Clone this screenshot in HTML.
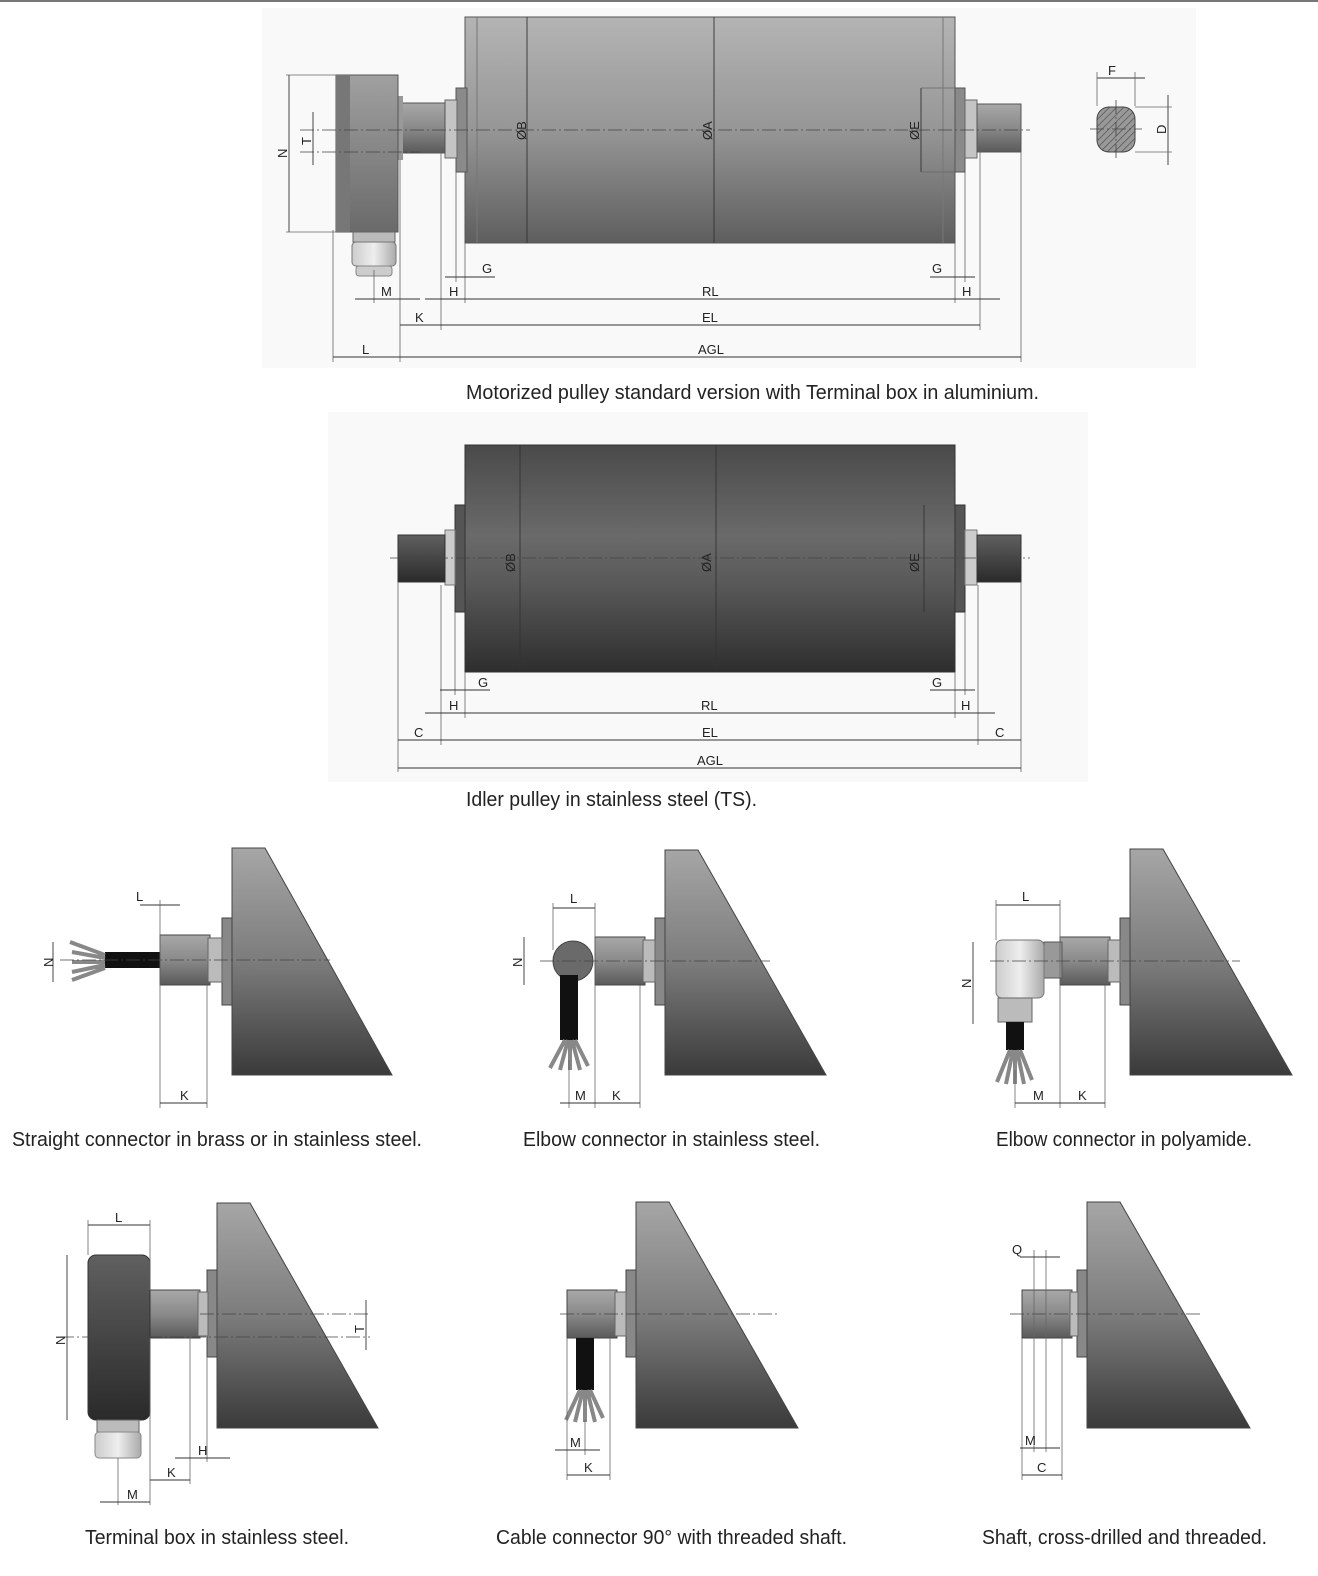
<!DOCTYPE html>
<html><head><meta charset="utf-8"><style>
html,body{margin:0;padding:0;background:#fff;}
svg{display:block;}
.cap{font-family:"Liberation Sans Narrow","Liberation Sans",sans-serif;font-size:20px;fill:#222;}
.lb{font-family:"Liberation Sans Narrow","Liberation Sans",sans-serif;font-size:13px;fill:#222;}
.d{stroke:#333;stroke-width:0.9;fill:none;}
.e{stroke:#666;stroke-width:0.8;fill:none;}
.c{stroke:#444;stroke-width:0.8;stroke-dasharray:14 3 2 3;fill:none;}
</style></head><body>
<svg width="1318" height="1576" viewBox="0 0 1318 1576" xmlns="http://www.w3.org/2000/svg">
<defs>
<linearGradient id="cy1" x1="0" y1="0" x2="0" y2="1"><stop offset="0" stop-color="#b4b4b4"/><stop offset="0.5" stop-color="#969696"/><stop offset="1" stop-color="#5e5e5e"/></linearGradient>
<linearGradient id="cy2" x1="0" y1="0" x2="0" y2="1"><stop offset="0" stop-color="#4a4a4a"/><stop offset="0.4" stop-color="#6a6a6a"/><stop offset="0.6" stop-color="#5a5a5a"/><stop offset="1" stop-color="#2e2e2e"/></linearGradient>
<linearGradient id="sh" x1="0" y1="0" x2="0" y2="1"><stop offset="0" stop-color="#a8a8a8"/><stop offset="0.5" stop-color="#8a8a8a"/><stop offset="1" stop-color="#5a5a5a"/></linearGradient>
<linearGradient id="wd" x1="0" y1="0" x2="0" y2="1"><stop offset="0" stop-color="#a6a6a6"/><stop offset="0.5" stop-color="#7c7c7c"/><stop offset="1" stop-color="#3a3a3a"/></linearGradient>
<linearGradient id="tb" x1="0" y1="0" x2="0" y2="1"><stop offset="0" stop-color="#a0a0a0"/><stop offset="1" stop-color="#6a6a6a"/></linearGradient>
<linearGradient id="tb2" x1="0" y1="0" x2="0" y2="1"><stop offset="0" stop-color="#606060"/><stop offset="1" stop-color="#2a2a2a"/></linearGradient>
<linearGradient id="gl" x1="0" y1="0" x2="1" y2="0"><stop offset="0" stop-color="#ccc"/><stop offset="0.5" stop-color="#eee"/><stop offset="1" stop-color="#aaa"/></linearGradient>
<pattern id="hat" width="5" height="5" patternUnits="userSpaceOnUse" patternTransform="rotate(45)"><rect width="5" height="5" fill="#999"/><line x1="0" y1="0" x2="0" y2="5" stroke="#555" stroke-width="1.5"/></pattern>
</defs>
<rect x="0" y="0" width="1318" height="2" fill="#777"/>
<rect x="262" y="8" width="934" height="360" fill="#f9f9f9"/>
<rect x="328" y="412" width="760" height="370" fill="#f9f9f9"/>

<!-- Drawing 1 -->
<rect x="465" y="17" width="490" height="226" fill="url(#cy1)" stroke="#555"/>
<line x1="477" y1="17" x2="477" y2="243" stroke="#777"/>
<line x1="943" y1="17" x2="943" y2="243" stroke="#777"/>
<rect x="456" y="88" width="11" height="84" fill="#8a8a8a" stroke="#555"/>
<rect x="445" y="100" width="12" height="58" fill="#c4c4c4" stroke="#666"/>
<rect x="400" y="103" width="45" height="50" fill="url(#sh)" stroke="#555"/>
<rect x="398" y="96" width="5" height="64" fill="#999"/>
<rect x="336" y="75" width="62" height="157" fill="url(#tb)" stroke="#555"/>
<rect x="336" y="75" width="14" height="157" fill="#777"/>
<rect x="353" y="232" width="42" height="10" fill="#bbb" stroke="#666"/>
<rect x="352" y="242" width="44" height="24" rx="4" fill="url(#gl)" stroke="#777"/>
<rect x="356" y="266" width="36" height="10" rx="3" fill="#ccc" stroke="#888"/>
<rect x="955" y="88" width="10" height="84" fill="#8a8a8a" stroke="#555"/>
<rect x="965" y="100" width="12" height="58" fill="#c4c4c4" stroke="#666"/>
<rect x="977" y="104" width="44" height="48" fill="url(#sh)" stroke="#555"/>
<line class="c" x1="300" y1="130" x2="1030" y2="130"/>
<line class="c" x1="300" y1="152" x2="420" y2="152"/>
<rect x="1097" y="107" width="38" height="45" rx="12" fill="url(#hat)" stroke="#444"/>
<line class="c" x1="1090" y1="129" x2="1142" y2="129"/>
<line class="c" x1="1116" y1="100" x2="1116" y2="160"/>
<line class="d" x1="1097" y1="78" x2="1145" y2="78"/><line class="e" x1="1097" y1="72" x2="1097" y2="106"/><line class="e" x1="1135" y1="72" x2="1135" y2="106"/>
<text class="lb" x="1108" y="75">F</text>
<line class="d" x1="1168" y1="95" x2="1168" y2="165"/><line class="e" x1="1135" y1="107" x2="1172" y2="107"/><line class="e" x1="1135" y1="152" x2="1172" y2="152"/>
<text class="lb" x="1166" y="134" transform="rotate(-90 1166 134)">D</text>
<line class="d" x1="527" y1="17" x2="527" y2="243"/><text class="lb" x="526" y="140" transform="rotate(-90 526 140)">ØB</text>
<line class="d" x1="714" y1="17" x2="714" y2="243"/><text class="lb" x="712" y="140" transform="rotate(-90 712 140)">ØA</text>
<line class="d" x1="921" y1="88" x2="921" y2="172"/><line class="e" x1="921" y1="88" x2="955" y2="88"/><line class="e" x1="921" y1="172" x2="955" y2="172"/><text class="lb" x="919" y="140" transform="rotate(-90 919 140)">ØE</text>
<line class="d" x1="289" y1="75" x2="289" y2="232"/><line class="e" x1="286" y1="75" x2="336" y2="75"/><line class="e" x1="286" y1="232" x2="336" y2="232"/>
<text class="lb" x="287" y="158" transform="rotate(-90 287 158)">N</text>
<line class="d" x1="313" y1="112" x2="313" y2="165"/><text class="lb" x="311" y="145" transform="rotate(-90 311 145)">T</text>
<!-- dimension lines -->
<g>
<line class="e" x1="333" y1="230" x2="333" y2="362"/><line class="e" x1="400" y1="160" x2="400" y2="362"/>
<line class="e" x1="1021" y1="152" x2="1021" y2="362"/><line class="e" x1="441" y1="150" x2="441" y2="330"/>
<line class="e" x1="980" y1="150" x2="980" y2="330"/><line class="e" x1="465" y1="243" x2="465" y2="303"/>
<line class="e" x1="955" y1="243" x2="955" y2="303"/><line class="e" x1="456" y1="172" x2="456" y2="282"/>
<line class="e" x1="965" y1="172" x2="965" y2="282"/><line class="e" x1="374" y1="270" x2="374" y2="303"/>
<line class="d" x1="445" y1="277" x2="495" y2="277"/><text class="lb" x="482" y="273">G</text>
<line class="d" x1="930" y1="277" x2="975" y2="277"/><text class="lb" x="932" y="273">G</text>
<line class="d" x1="355" y1="299" x2="420" y2="299"/><text class="lb" x="381" y="296">M</text>
<line class="d" x1="425" y1="299" x2="1000" y2="299"/><text class="lb" x="449" y="296">H</text><text class="lb" x="702" y="296">RL</text><text class="lb" x="962" y="296">H</text>
<line class="d" x1="400" y1="325" x2="980" y2="325"/><text class="lb" x="415" y="322">K</text><text class="lb" x="702" y="322">EL</text>
<line class="d" x1="333" y1="357" x2="1021" y2="357"/><text class="lb" x="362" y="354">L</text><text class="lb" x="698" y="354">AGL</text>
</g>
<text class="cap" x="466" y="399" textLength="573" lengthAdjust="spacingAndGlyphs">Motorized pulley standard version with Terminal box in aluminium.</text>

<!-- Drawing 2 -->
<rect x="465" y="445" width="490" height="227" fill="url(#cy2)" stroke="#333"/>
<rect x="455" y="505" width="10" height="107" fill="#555" stroke="#333"/>
<rect x="955" y="505" width="10" height="107" fill="#555" stroke="#333"/>
<rect x="445" y="530" width="10" height="55" fill="#ccc" stroke="#777"/>
<rect x="965" y="530" width="12" height="55" fill="#ccc" stroke="#777"/>
<rect x="398" y="535" width="47" height="47" fill="url(#tb2)" stroke="#333"/>
<rect x="977" y="535" width="44" height="47" fill="url(#tb2)" stroke="#333"/>
<line class="c" x1="390" y1="558" x2="1030" y2="558"/>
<line class="d" x1="520" y1="445" x2="520" y2="672"/><text class="lb" x="515" y="572" transform="rotate(-90 515 572)">ØB</text>
<line class="d" x1="716" y1="445" x2="716" y2="672"/><text class="lb" x="711" y="572" transform="rotate(-90 711 572)">ØA</text>
<line class="d" x1="924" y1="505" x2="924" y2="612"/><text class="lb" x="919" y="572" transform="rotate(-90 919 572)">ØE</text>
<line class="e" x1="398" y1="582" x2="398" y2="772"/><line class="e" x1="1021" y1="582" x2="1021" y2="772"/>
<line class="e" x1="441" y1="585" x2="441" y2="745"/><line class="e" x1="978" y1="585" x2="978" y2="745"/>
<line class="e" x1="455" y1="612" x2="455" y2="695"/><line class="e" x1="965" y1="612" x2="965" y2="695"/>
<line class="e" x1="465" y1="672" x2="465" y2="718"/><line class="e" x1="955" y1="672" x2="955" y2="718"/>
<line class="d" x1="440" y1="690" x2="490" y2="690"/><text class="lb" x="478" y="687">G</text>
<line class="d" x1="930" y1="690" x2="975" y2="690"/><text class="lb" x="932" y="687">G</text>
<line class="d" x1="425" y1="713" x2="995" y2="713"/><text class="lb" x="449" y="710">H</text><text class="lb" x="701" y="710">RL</text><text class="lb" x="961" y="710">H</text>
<line class="d" x1="398" y1="740" x2="1021" y2="740"/><text class="lb" x="414" y="737">C</text><text class="lb" x="702" y="737">EL</text><text class="lb" x="995" y="737">C</text>
<line class="d" x1="398" y1="768" x2="1021" y2="768"/><text class="lb" x="697" y="765">AGL</text>
<text class="cap" x="466" y="806" textLength="291" lengthAdjust="spacingAndGlyphs">Idler pulley in stainless steel (TS).</text>

<!-- Small drawing template: wedges -->
<g stroke="#444">
<path d="M232 848 H265 L392 1075 H232 Z" fill="url(#wd)"/>
<path d="M665 850 H698 L826 1075 H665 Z" fill="url(#wd)"/>
<path d="M1130 849 H1163 L1292 1075 H1130 Z" fill="url(#wd)"/>
<path d="M217 1203 H250 L378 1428 H217 Z" fill="url(#wd)"/>
<path d="M636 1202 H669 L798 1428 H636 Z" fill="url(#wd)"/>
<path d="M1087 1202 H1120 L1250 1428 H1087 Z" fill="url(#wd)"/>
</g>
<g stroke="#444">
<rect x="222" y="918" width="10" height="87" fill="#888"/><rect x="655" y="918" width="10" height="87" fill="#888"/><rect x="1120" y="918" width="10" height="87" fill="#888"/>
<rect x="207" y="1270" width="10" height="87" fill="#888"/><rect x="626" y="1270" width="10" height="87" fill="#888"/><rect x="1077" y="1270" width="10" height="87" fill="#888"/>
</g>
<!-- D1 straight -->
<rect x="160" y="935" width="50" height="50" fill="url(#sh)" stroke="#444"/>
<rect x="208" y="938" width="14" height="44" fill="#bbb" stroke="#666"/>
<rect x="105" y="952" width="55" height="16" fill="#111"/>
<path d="M105 955 L70 942 M105 958 L72 952 M105 962 L72 962 M105 965 L72 972 M105 968 L72 980" stroke="#888" stroke-width="4"/>
<line class="c" x1="60" y1="960" x2="330" y2="960"/>
<line class="d" x1="140" y1="905" x2="180" y2="905"/><text class="lb" x="136" y="901">L</text>
<line class="e" x1="160" y1="900" x2="160" y2="1108"/><line class="e" x1="207" y1="985" x2="207" y2="1108"/>
<line class="d" x1="160" y1="1103" x2="207" y2="1103"/><text class="lb" x="180" y="1100">K</text>
<line class="d" x1="53" y1="942" x2="53" y2="982"/><text class="lb" x="53" y="967" transform="rotate(-90 53 967)">N</text>
<text class="cap" x="12" y="1146" textLength="410" lengthAdjust="spacingAndGlyphs">Straight connector in brass or in stainless steel.</text>
<!-- D2 elbow SS -->
<rect x="595" y="937" width="50" height="48" fill="url(#sh)" stroke="#444"/>
<rect x="643" y="940" width="12" height="42" fill="#bbb" stroke="#666"/>
<circle cx="573" cy="961" r="20" fill="#6a6a6a" stroke="#444"/>
<rect x="560" y="975" width="18" height="65" fill="#111"/>
<path d="M565 1040 L550 1068 M568 1040 L560 1070 M570 1040 L570 1070 M572 1040 L580 1070 M575 1040 L588 1066" stroke="#888" stroke-width="4"/>
<line class="c" x1="540" y1="961" x2="770" y2="961"/>
<line class="d" x1="553" y1="908" x2="595" y2="908"/><text class="lb" x="570" y="903">L</text>
<line class="e" x1="553" y1="903" x2="553" y2="950"/><line class="e" x1="595" y1="903" x2="595" y2="1108"/><line class="e" x1="569" y1="1060" x2="569" y2="1108"/><line class="e" x1="640" y1="985" x2="640" y2="1108"/>
<line class="d" x1="560" y1="1103" x2="640" y2="1103"/><text class="lb" x="575" y="1100">M</text><text class="lb" x="612" y="1100">K</text>
<line class="d" x1="524" y1="937" x2="524" y2="985"/><text class="lb" x="522" y="967" transform="rotate(-90 522 967)">N</text>
<text class="cap" x="523" y="1146" textLength="297" lengthAdjust="spacingAndGlyphs">Elbow connector in stainless steel.</text>
<!-- D3 elbow PA -->
<rect x="1060" y="937" width="50" height="48" fill="url(#sh)" stroke="#444"/>
<rect x="1108" y="940" width="12" height="42" fill="#bbb" stroke="#666"/>
<rect x="1044" y="942" width="18" height="36" fill="#999" stroke="#555"/>
<rect x="996" y="940" width="48" height="58" rx="6" fill="url(#gl)" stroke="#777"/>
<rect x="998" y="998" width="34" height="24" fill="#bbb" stroke="#666"/>
<rect x="1006" y="1022" width="18" height="28" fill="#111"/>
<path d="M1010 1050 L997 1082 M1013 1050 L1006 1084 M1015 1050 L1015 1084 M1017 1050 L1024 1084 M1020 1050 L1032 1080" stroke="#888" stroke-width="4"/>
<line class="c" x1="990" y1="961" x2="1240" y2="961"/>
<line class="d" x1="996" y1="905" x2="1060" y2="905"/><text class="lb" x="1022" y="901">L</text>
<line class="e" x1="996" y1="900" x2="996" y2="940"/><line class="e" x1="1060" y1="900" x2="1060" y2="1108"/><line class="e" x1="1015" y1="1070" x2="1015" y2="1108"/><line class="e" x1="1105" y1="985" x2="1105" y2="1108"/>
<line class="d" x1="1015" y1="1103" x2="1105" y2="1103"/><text class="lb" x="1033" y="1100">M</text><text class="lb" x="1078" y="1100">K</text>
<line class="d" x1="973" y1="942" x2="973" y2="1024"/><text class="lb" x="971" y="988" transform="rotate(-90 971 988)">N</text>
<text class="cap" x="996" y="1146" textLength="256" lengthAdjust="spacingAndGlyphs">Elbow connector in polyamide.</text>
<!-- D4 terminal box SS -->
<rect x="150" y="1290" width="50" height="48" fill="url(#sh)" stroke="#444"/>
<rect x="198" y="1292" width="10" height="44" fill="#bbb" stroke="#666"/>
<rect x="88" y="1255" width="62" height="165" rx="8" fill="url(#tb2)" stroke="#333"/>
<rect x="97" y="1420" width="42" height="12" fill="#bbb" stroke="#666"/>
<rect x="95" y="1432" width="46" height="26" rx="4" fill="url(#gl)" stroke="#888"/>
<line class="c" x1="60" y1="1337" x2="370" y2="1337"/>
<line class="c" x1="200" y1="1314" x2="370" y2="1314"/>
<line class="d" x1="88" y1="1225" x2="150" y2="1225"/><text class="lb" x="115" y="1222">L</text>
<line class="e" x1="88" y1="1220" x2="88" y2="1255"/><line class="e" x1="150" y1="1220" x2="150" y2="1290"/>
<line class="d" x1="67" y1="1255" x2="67" y2="1420"/><text class="lb" x="65" y="1345" transform="rotate(-90 65 1345)">N</text>
<line class="d" x1="366" y1="1300" x2="366" y2="1350"/><text class="lb" x="364" y="1333" transform="rotate(-90 364 1333)">T</text>
<line class="e" x1="118" y1="1458" x2="118" y2="1505"/><line class="e" x1="150" y1="1338" x2="150" y2="1505"/><line class="e" x1="190" y1="1338" x2="190" y2="1484"/><line class="e" x1="207" y1="1357" x2="207" y2="1462"/>
<line class="d" x1="175" y1="1458" x2="230" y2="1458"/><text class="lb" x="198" y="1455">H</text>
<line class="d" x1="150" y1="1480" x2="190" y2="1480"/><text class="lb" x="167" y="1477">K</text>
<line class="d" x1="100" y1="1502" x2="150" y2="1502"/><text class="lb" x="127" y="1499">M</text>
<text class="cap" x="85" y="1544" textLength="264" lengthAdjust="spacingAndGlyphs">Terminal box in stainless steel.</text>
<!-- D5 cable 90 -->
<rect x="567" y="1290" width="50" height="48" fill="url(#sh)" stroke="#444"/>
<rect x="615" y="1292" width="11" height="44" fill="#bbb" stroke="#666"/>
<rect x="576" y="1338" width="18" height="52" fill="#111"/>
<path d="M580 1390 L566 1420 M583 1390 L575 1422 M585 1390 L585 1422 M587 1390 L595 1422 M590 1390 L603 1418" stroke="#888" stroke-width="4"/>
<line class="c" x1="560" y1="1314" x2="780" y2="1314"/>
<line class="e" x1="567" y1="1338" x2="567" y2="1480"/><line class="e" x1="585" y1="1420" x2="585" y2="1455"/><line class="e" x1="610" y1="1338" x2="610" y2="1480"/>
<line class="d" x1="555" y1="1450" x2="600" y2="1450"/><text class="lb" x="570" y="1447">M</text>
<line class="d" x1="567" y1="1475" x2="610" y2="1475"/><text class="lb" x="584" y="1472">K</text>
<text class="cap" x="496" y="1544" textLength="351" lengthAdjust="spacingAndGlyphs">Cable connector 90° with threaded shaft.</text>
<!-- D6 shaft -->
<rect x="1022" y="1290" width="50" height="48" fill="url(#sh)" stroke="#444"/>
<rect x="1070" y="1292" width="8" height="44" fill="#bbb" stroke="#666"/>
<line class="c" x1="1010" y1="1314" x2="1200" y2="1314"/>
<line class="e" x1="1034" y1="1250" x2="1034" y2="1452"/><line class="e" x1="1046" y1="1250" x2="1046" y2="1452"/>
<line class="e" x1="1022" y1="1338" x2="1022" y2="1480"/><line class="e" x1="1062" y1="1338" x2="1062" y2="1480"/>
<line class="d" x1="1020" y1="1257" x2="1060" y2="1257"/><text class="lb" x="1012" y="1254">Q</text>
<line class="d" x1="1020" y1="1448" x2="1060" y2="1448"/><text class="lb" x="1025" y="1445">M</text>
<line class="d" x1="1022" y1="1475" x2="1062" y2="1475"/><text class="lb" x="1037" y="1472">C</text>
<text class="cap" x="982" y="1544" textLength="285" lengthAdjust="spacingAndGlyphs">Shaft, cross-drilled and threaded.</text>
</svg>
</body></html>
